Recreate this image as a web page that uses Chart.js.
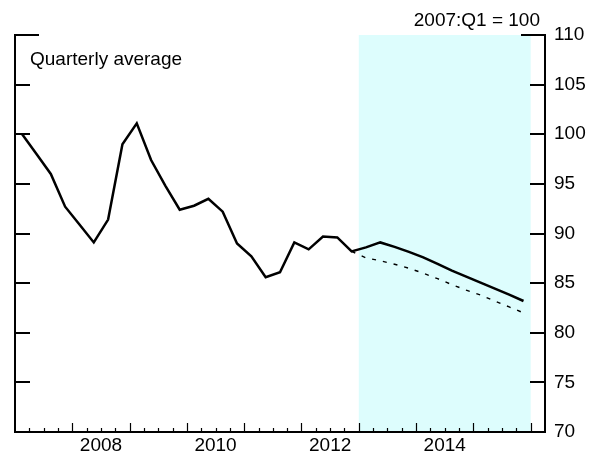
<!DOCTYPE html>
<html>
<head>
<meta charset="utf-8">
<script src="https://cdn.jsdelivr.net/npm/chart.js@4.4.0/dist/chart.umd.min.js"></script>
<style>
  html, body { margin: 0; padding: 0; background: #fff; }
</style>
</head>
<body>
<canvas id="chart" width="600" height="456"></canvas>
<script>
var quarters = [
  "2007:Q1", "2007:Q2", "2007:Q3", "2007:Q4",
  "2008:Q1", "2008:Q2", "2008:Q3", "2008:Q4",
  "2009:Q1", "2009:Q2", "2009:Q3", "2009:Q4",
  "2010:Q1", "2010:Q2", "2010:Q3", "2010:Q4",
  "2011:Q1", "2011:Q2", "2011:Q3", "2011:Q4",
  "2012:Q1", "2012:Q2", "2012:Q3", "2012:Q4",
  "2013:Q1", "2013:Q2", "2013:Q3", "2013:Q4",
  "2014:Q1", "2014:Q2", "2014:Q3", "2014:Q4",
  "2015:Q1", "2015:Q2", "2015:Q3", "2015:Q4"
]
// 2007:Q1 .. 2012:Q4
var actual = [100.0, 98.0, 96.0, 92.7, 90.9, 89.1, 91.4, 99.0,
              101.1, 97.4, 94.8, 92.4, 92.8, 93.5, 92.2, 89.0,
              87.7, 85.6, 86.1, 89.1, 88.4, 89.7, 89.6, 88.2]
// 2012:Q4 .. 2015:Q4
var baseline = [88.2, 88.6, 89.1, 88.65, 88.15, 87.6, 86.95, 86.25, 85.65, 85.05, 84.45, 83.85, 83.2]
var alternative = [88.2, 87.55, 87.25, 86.9, 86.5, 86.0, 85.45, 84.85, 84.3, 83.8, 83.2, 82.6, 82.0]

var yearLabels = [2008, 2010, 2012, 2014]
var yTicks = [70, 75, 80, 85, 90, 95, 100, 105, 110]
var xRange = [2007, 2016.25]
var shadeRange = [2013, 2016]
var topNote = "2007:Q1 = 100"
var cornerNote = "Quarterly average"

function qPos(label){
    var yr = parseInt(label.slice(0, 4))
    var q = parseInt(label.slice(6))
    return yr + (q - 0.5) / 4
}

var solidPts = actual.concat(baseline.slice(1)).map(function(v, i){
    return {x: qPos(quarters[i]), y: v}
})
var start = quarters.indexOf("2012:Q4")
var dashPts = alternative.map(function(v, i){
    return {x: qPos(quarters[start + i]), y: v}
})

var font = {family: "Arial, 'Liberation Sans', sans-serif", size: 19}

var decor = {
    id: 'decor',
    beforeDraw: function(chart){
        var c = chart.ctx, a = chart.chartArea, x = chart.scales.x
        c.save()
        c.fillStyle = 'rgb(221,253,253)'
        var x0 = x.getPixelForValue(shadeRange[0]), x1 = x.getPixelForValue(shadeRange[1])
        c.fillRect(x0, a.top, x1 - x0, a.bottom - a.top)
        c.restore()
    },
    beforeDatasetsDraw: function(chart){
        var c = chart.ctx, a = chart.chartArea, x = chart.scales.x, y = chart.scales.y
        c.save()
        c.strokeStyle = '#000'
        // y ticks, pointing inward on both sides
        c.lineWidth = 2
        yTicks.forEach(function(v){
            if (v === yTicks[0]) return
            var len = v === yTicks[yTicks.length - 1] ? 24 : 15
            var py = Math.round(y.getPixelForValue(v))
            c.beginPath()
            c.moveTo(a.left, py); c.lineTo(a.left + len, py)
            c.moveTo(a.right - len, py); c.lineTo(a.right, py)
            c.stroke()
        })
        // quarterly ticks on the x axis
        c.lineWidth = 1.2
        for (var yr = xRange[0]; yr < xRange[1]; yr++){
            for (var q = 0; q < 4; q++){
                var v = yr + q / 4
                if (v <= xRange[0] || v >= xRange[1]) continue
                var px = Math.round(x.getPixelForValue(v)) + 0.5
                var len = q === 0 ? 9 : 4
                c.beginPath()
                c.moveTo(px, a.bottom); c.lineTo(px, a.bottom - len)
                c.stroke()
            }
        }
        c.restore()
    },
    afterDraw: function(chart){
        var c = chart.ctx, a = chart.chartArea
        c.save()
        c.fillStyle = '#000'
        c.font = font.size + 'px ' + font.family
        c.textBaseline = 'alphabetic'
        c.textAlign = 'left'
        c.fillText(cornerNote, a.left + 15, 65)
        c.textAlign = 'right'
        c.fillText(topNote, a.right - 5, 26)
        c.restore()
    }
}

new Chart(document.getElementById('chart'), {
    type: 'line',
    data: {
        datasets: [{
            data: solidPts,
            borderColor: '#000',
            borderWidth: 2.5,
            pointRadius: 0,
            tension: 0,
            fill: false
        }, {
            data: dashPts,
            borderColor: '#000',
            borderWidth: 1.4,
            borderDash: [4, 7],
            pointRadius: 0,
            tension: 0,
            fill: false
        }]
    },
    options: {
        responsive: false,
        animation: false,
        layout: {padding: {top: 35, left: 15, right: 0, bottom: 0}},
        plugins: {legend: {display: false}, tooltip: {enabled: false}},
        scales: {
            x: {
                type: 'linear',
                min: xRange[0],
                max: xRange[1],
                afterBuildTicks: function(s){
                    s.ticks = yearLabels.map(function(yr){ return {value: yr + 0.5} })
                },
                ticks: {
                    callback: function(v){ return Math.floor(v) },
                    font: font,
                    color: '#000',
                    padding: 2,
                    maxRotation: 0,
                    autoSkip: false
                },
                grid: {display: false, drawTicks: false},
                border: {display: true, color: '#000', width: 2},
                afterFit: function(s){ s.height = 24 }
            },
            y: {
                position: 'right',
                min: 70,
                max: 110,
                afterBuildTicks: function(s){
                    s.ticks = yTicks.map(function(v){ return {value: v} })
                },
                ticks: {font: font, color: '#000', padding: 9},
                grid: {display: false, drawTicks: false},
                border: {display: true, color: '#000', width: 2},
                afterFit: function(s){ s.width = 55 }
            },
            yl: {
                position: 'left',
                min: 70,
                max: 110,
                ticks: {display: false},
                grid: {display: false, drawTicks: false},
                border: {display: true, color: '#000', width: 2},
                afterFit: function(s){ s.width = 0 }
            }
        }
    },
    plugins: [decor]
})
</script>
</body>
</html>
